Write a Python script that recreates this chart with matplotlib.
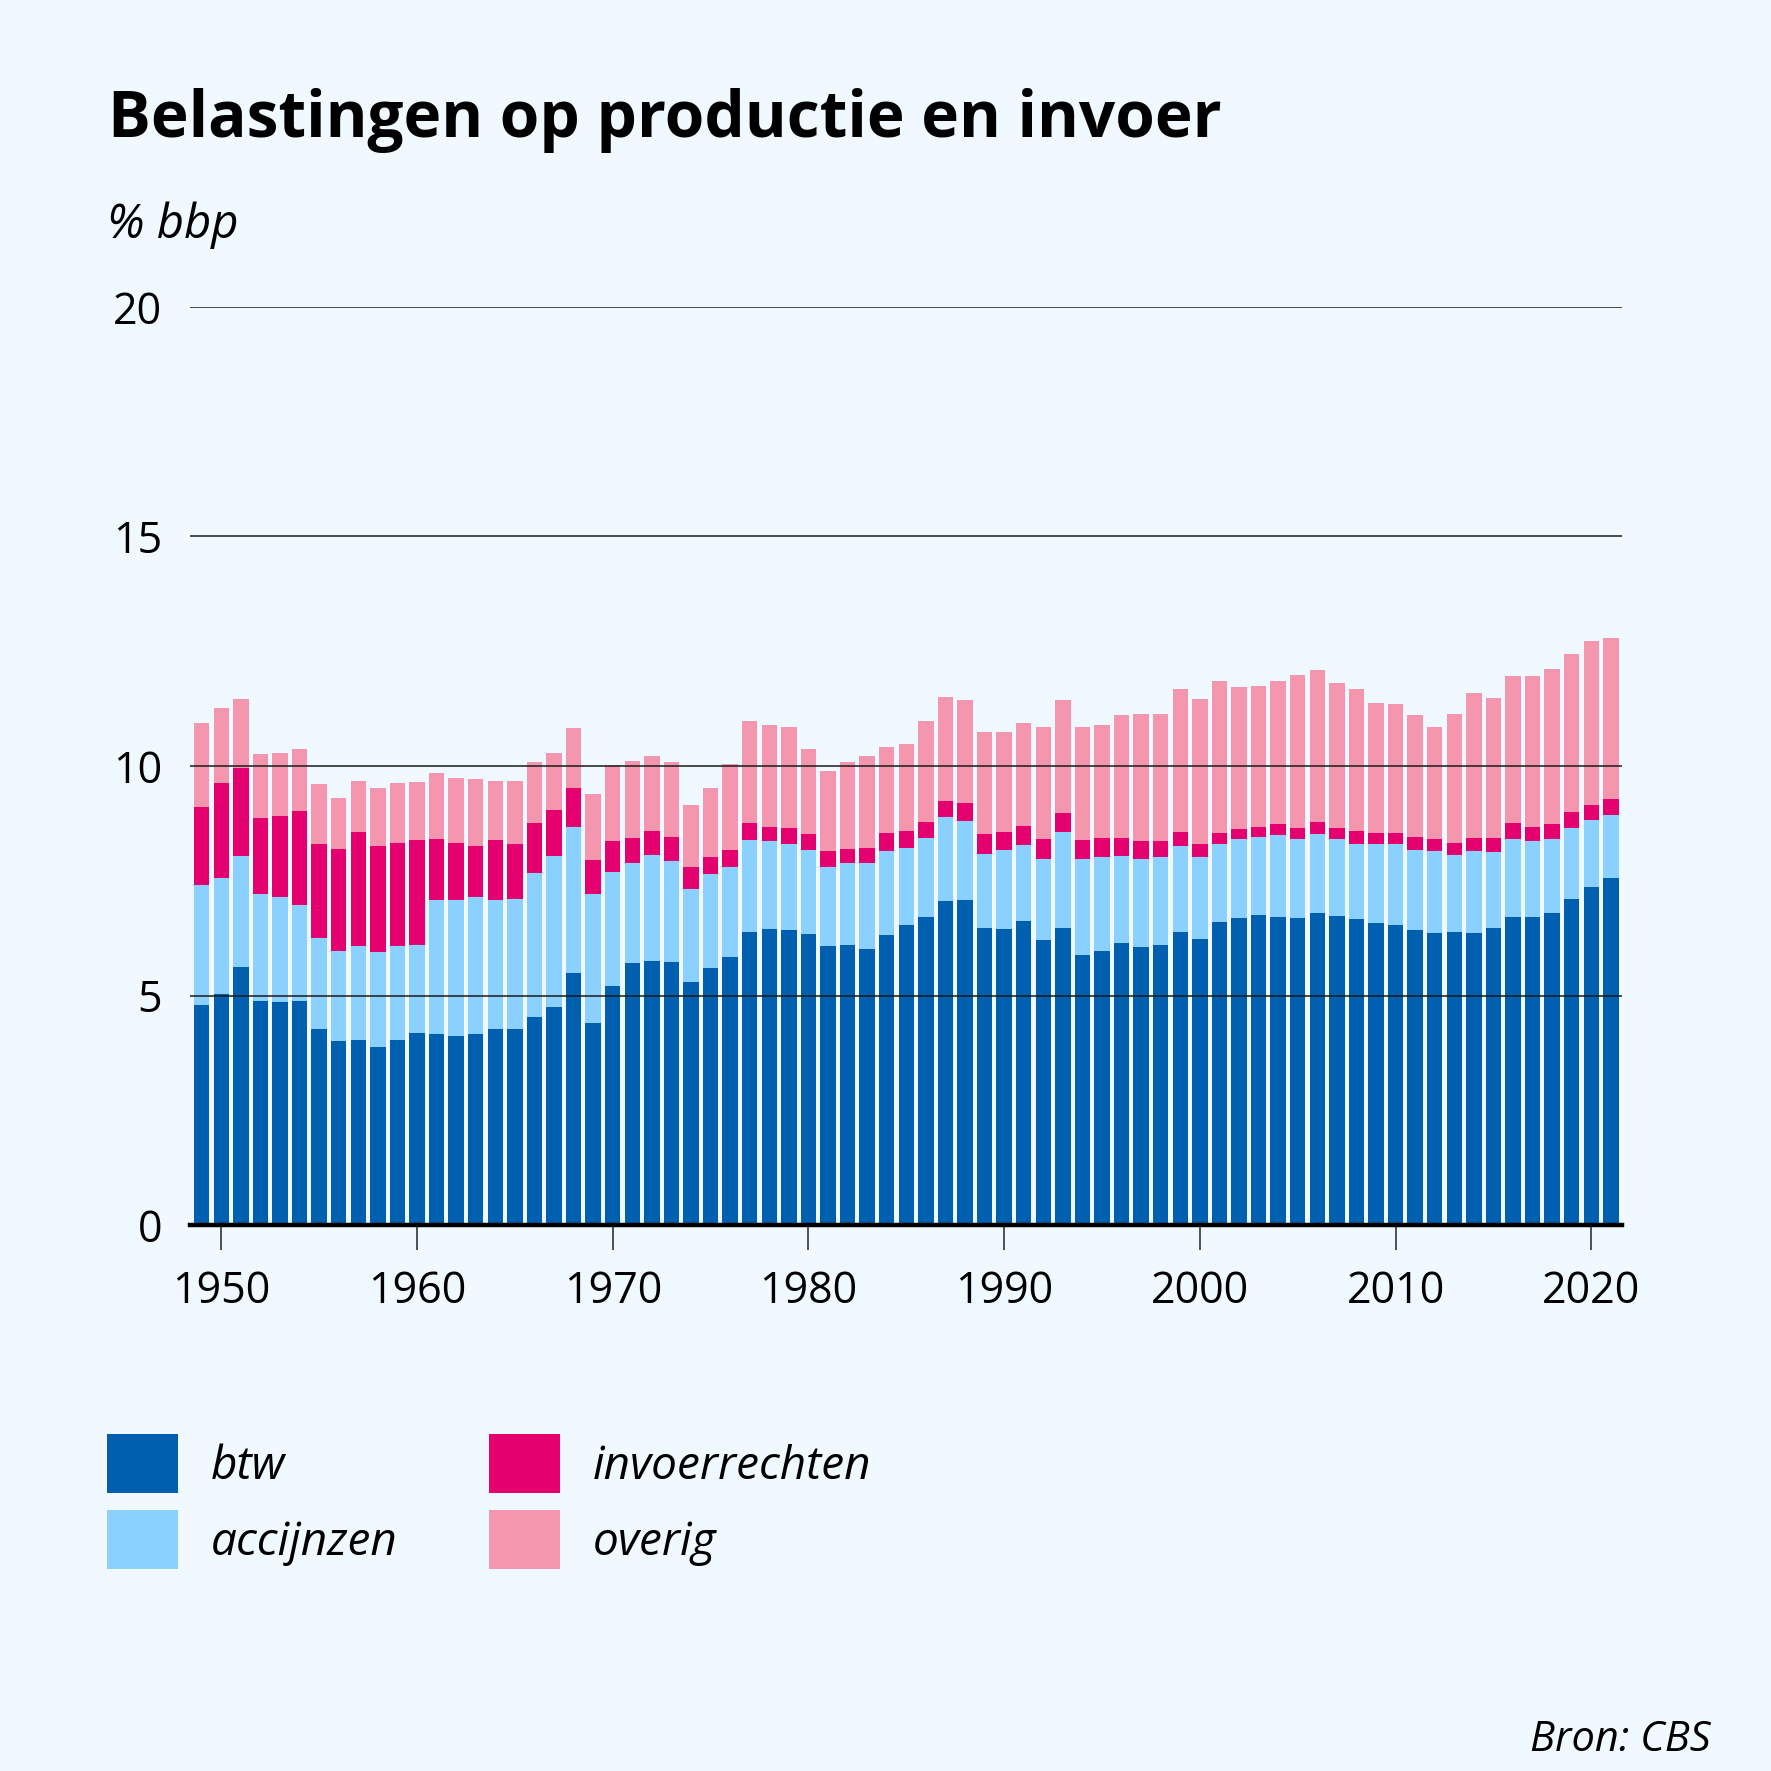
import numpy as np
import matplotlib
matplotlib.use("Agg")
import matplotlib.pyplot as plt
from matplotlib.patches import Patch

# ---------------- data (% bbp) ----------------
years = list(range(1949, 2022))

btw = [4.80, 5.04, 5.63, 4.87, 4.85, 4.87, 4.28, 4.00, 4.04, 3.87,
       4.04, 4.19, 4.17, 4.11, 4.17, 4.26, 4.28, 4.54, 4.74, 5.48,
       4.39, 5.20, 5.70, 5.76, 5.72, 5.30, 5.59, 5.83, 6.39, 6.44,
       6.42, 6.35, 6.07, 6.09, 6.02, 6.31, 6.53, 6.70, 7.05, 7.07,
       6.48, 6.44, 6.63, 6.20, 6.48, 5.89, 5.98, 6.15, 6.05, 6.09,
       6.39, 6.24, 6.61, 6.68, 6.76, 6.70, 6.68, 6.79, 6.74, 6.66,
       6.57, 6.53, 6.42, 6.37, 6.39, 6.37, 6.46, 6.72, 6.72, 6.79,
       7.11, 7.37, 7.55]

accijnzen = [2.60, 2.53, 2.40, 2.35, 2.29, 2.11, 1.98, 1.96, 2.03, 2.07,
             2.03, 1.92, 2.90, 2.98, 2.97, 2.83, 2.83, 3.12, 3.29, 3.20,
             2.83, 2.48, 2.18, 2.31, 2.22, 2.03, 2.05, 1.96, 1.99, 1.92,
             1.89, 1.81, 1.72, 1.79, 1.86, 1.83, 1.69, 1.74, 1.83, 1.74,
             1.61, 1.72, 1.64, 1.78, 2.09, 2.09, 2.03, 1.90, 1.93, 1.92,
             1.86, 1.77, 1.68, 1.72, 1.70, 1.79, 1.72, 1.72, 1.66, 1.65,
             1.74, 1.76, 1.76, 1.77, 1.68, 1.77, 1.66, 1.70, 1.64, 1.61,
             1.53, 1.46, 1.39]

invoerrechten = [1.70, 2.07, 1.92, 1.64, 1.78, 2.03, 2.03, 2.24, 2.50, 2.31,
                 2.26, 2.27, 1.35, 1.24, 1.11, 1.29, 1.18, 1.09, 1.02, 0.83,
                 0.74, 0.68, 0.56, 0.52, 0.52, 0.46, 0.37, 0.37, 0.37, 0.32,
                 0.35, 0.35, 0.35, 0.32, 0.34, 0.39, 0.37, 0.35, 0.35, 0.39,
                 0.42, 0.41, 0.43, 0.42, 0.40, 0.40, 0.43, 0.39, 0.38, 0.35,
                 0.32, 0.28, 0.26, 0.22, 0.22, 0.24, 0.24, 0.26, 0.26, 0.28,
                 0.24, 0.26, 0.28, 0.26, 0.26, 0.30, 0.32, 0.33, 0.32, 0.33,
                 0.35, 0.33, 0.35]

overig = [1.83, 1.63, 1.50, 1.41, 1.37, 1.35, 1.31, 1.11, 1.11, 1.28,
          1.31, 1.28, 1.42, 1.40, 1.46, 1.30, 1.39, 1.33, 1.24, 1.31,
          1.42, 1.67, 1.66, 1.62, 1.62, 1.37, 1.52, 1.89, 2.24, 2.22,
          2.18, 1.87, 1.76, 1.88, 1.99, 1.89, 1.90, 2.20, 2.28, 2.23,
          2.24, 2.18, 2.23, 2.44, 2.46, 2.48, 2.46, 2.68, 2.78, 2.78,
          3.10, 3.16, 3.31, 3.11, 3.07, 3.13, 3.35, 3.33, 3.14, 3.08,
          2.83, 2.79, 2.66, 2.46, 2.81, 3.16, 3.05, 3.20, 3.27, 3.39,
          3.44, 3.57, 3.49]

series_names = ["btw", "accijnzen", "invoerrechten", "overig"]
yticks = [0, 5, 10, 15, 20]
xticks = [1950, 1960, 1970, 1980, 1990, 2000, 2010, 2020]

# ---------------- style ----------------
BG = "#EFF9FF"
colors = {"btw": "#0060AF", "accijnzen": "#8BD1FF",
          "invoerrechten": "#E50070", "overig": "#F497AE"}
FONT = "Open Sans"

W = H = 1771
fig = plt.figure(figsize=(W / 100, H / 100), dpi=100, facecolor=BG)

def fx(px):
    return px / W

def fy(py):
    return 1 - py / H

ax = fig.add_axes([fx(190), fy(1225), fx(1622) - fx(190), fy(307) - fy(1225)])
ax.set_facecolor(BG)

data = {"btw": btw, "accijnzen": accijnzen,
        "invoerrechten": invoerrechten, "overig": overig}
bottom = np.zeros(len(years))
for name in series_names:
    vals = np.array(data[name])
    ax.bar(years, vals, width=0.79, bottom=bottom, color=colors[name],
           edgecolor="none", linewidth=0, zorder=2)
    bottom += vals

ax.set_xlim(1948.40, 2021.57)
ax.set_ylim(0, 20)

for v in yticks[1:]:
    ax.axhline(v, color="#1a1a1a", linewidth=1.1, zorder=3)

for s in ["top", "right", "left"]:
    ax.spines[s].set_visible(False)
ax.spines["bottom"].set_color("black")
ax.spines["bottom"].set_linewidth(3.2)
ax.spines["bottom"].set_zorder(4)

ax.set_yticks(yticks)
ax.set_yticklabels([str(v) for v in yticks], fontsize=31, fontfamily=FONT)
ax.tick_params(axis="y", length=0, pad=20)
ax.set_xticks(xticks)
ax.set_xticklabels([str(v) for v in xticks], fontsize=31, fontfamily=FONT)
ax.tick_params(axis="x", length=18, width=1.2, color="#333333", pad=14)

# ---------------- texts ----------------
fig.text(fx(108), fy(137), "Belastingen op productie en invoer",
         fontsize=46, fontweight="bold", fontfamily=FONT, va="baseline",
         ha="left", color="black")
fig.text(fx(107), fy(238), "% bbp", fontsize=34, fontstyle="italic",
         fontfamily=FONT, va="baseline", ha="left", color="black")
fig.text(fx(1711), fy(1751), "Bron: CBS", fontsize=30, fontstyle="italic",
         fontfamily=FONT, va="baseline", ha="right", color="black")

# ---------------- legend ----------------
def make_legend(names, xpx):
    handles = [Patch(facecolor=colors[n], edgecolor="none") for n in names]
    leg = fig.legend(handles, names, loc="upper left",
                     bbox_to_anchor=(fx(xpx), fy(1434)),
                     frameon=False, borderpad=0, borderaxespad=0,
                     handlelength=1.55, handleheight=1.62,
                     handletextpad=0.72, labelspacing=0.36,
                     prop={"family": FONT, "style": "italic", "size": 33})
    return leg

make_legend(["btw", "accijnzen"], 107)
make_legend(["invoerrechten", "overig"], 489)

fig.savefig("out.png", dpi=100, facecolor=BG)
